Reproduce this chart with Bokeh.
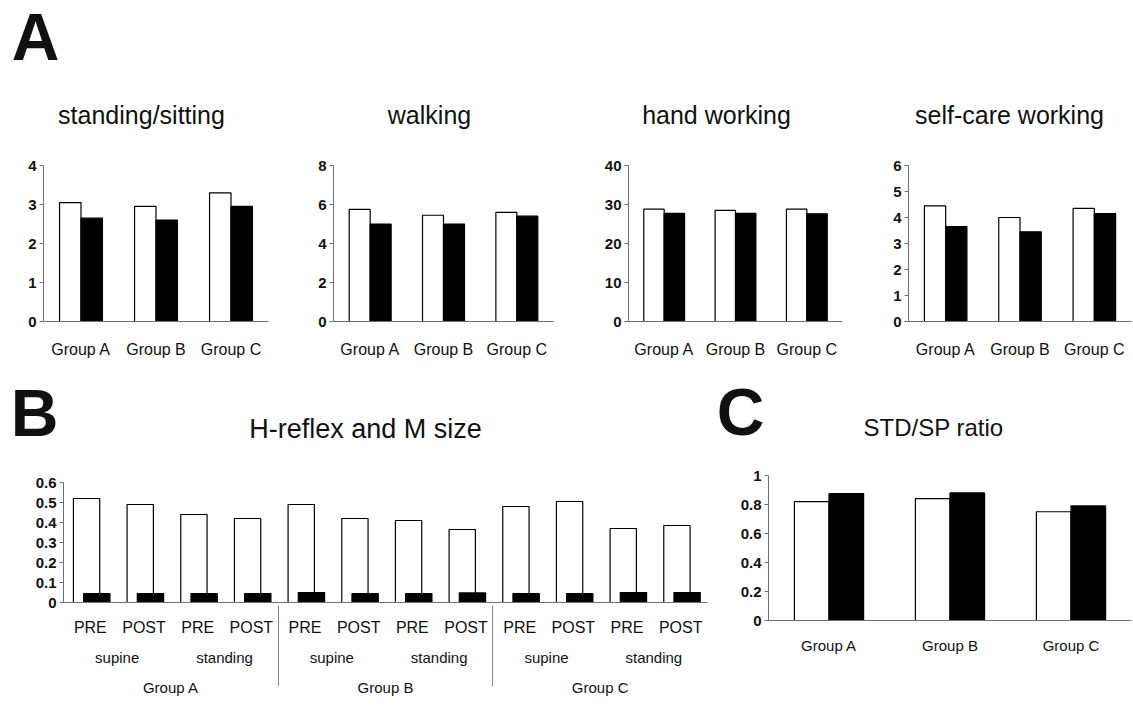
from bokeh.plotting import figure
from bokeh.models import FactorRange, Range1d, Label, FixedTicker, ColumnDataSource
from bokeh.transform import dodge
from bokeh.layouts import row, column
from bokeh.embed import file_html
from bokeh.resources import INLINE

# ---------------- data ----------------
groups = ["Group A", "Group B", "Group C"]

# Panel A (white = first bar, black = second bar)
stand_white = [3.05, 2.95, 3.3]
stand_black = [2.65, 2.6, 2.95]
walk_white = [5.75, 5.45, 5.6]
walk_black = [5.0, 5.0, 5.4]
hand_white = [28.8, 28.5, 28.8]
hand_black = [27.7, 27.7, 27.6]
self_white = [4.45, 4.0, 4.35]
self_black = [3.65, 3.45, 4.15]

# Panel B
postures = ["supine", "standing"]
phases = ["PRE", "POST"]
h_reflex = [0.52, 0.49, 0.44, 0.42, 0.49, 0.42, 0.41, 0.365, 0.48, 0.505, 0.37, 0.385]
m_size = [0.045, 0.045, 0.045, 0.045, 0.05, 0.045, 0.045, 0.048, 0.045, 0.045, 0.05, 0.05]

# Panel C
ratio_white = [0.82, 0.84, 0.75]
ratio_black = [0.875, 0.88, 0.79]

# ---------------- style ----------------
FONT = "Liberation Sans"
AXIS_COLOR = "#707070"
TXT = "#111111"
W = 1132


def base_style(p, tick_font="15px"):
    p.outline_line_color = None
    p.xgrid.visible = False
    p.ygrid.visible = False
    p.background_fill_color = "white"
    p.border_fill_color = "white"
    for ax in p.axis:
        ax.axis_line_color = AXIS_COLOR
        ax.axis_line_width = 1
        ax.major_tick_line_color = AXIS_COLOR
        ax.minor_tick_line_color = None
        ax.major_label_text_font = FONT
        ax.major_label_text_color = TXT
    p.yaxis.major_tick_in = 0
    p.yaxis.major_tick_out = 4
    p.yaxis.major_label_standoff = 3
    p.yaxis.major_label_text_font_size = tick_font
    p.yaxis.major_label_text_font_style = "bold"
    p.xaxis.major_tick_line_color = None


def header(height, items):
    h = figure(width=W, height=height, x_range=Range1d(0, W), y_range=Range1d(height, 0),
               x_axis_type=None, y_axis_type=None, min_border=0,
               output_backend="svg", toolbar_location=None, tools="", title=None)
    h.outline_line_color = None
    h.xgrid.visible = False
    h.ygrid.visible = False
    for (x, y, text, size, bold) in items:
        h.add_layout(Label(x=x, y=y, text=text, text_align="center", text_baseline="alphabetic",
                           text_font=FONT, text_font_size=size,
                           text_font_style="bold" if bold else "normal", text_color=TXT))
    return h


def pair_panel(white, black, ymax, ticks, width, left, right, top, height, bottom,
               label_size="16px", standoff=13, overrides=None):
    p = figure(x_range=FactorRange(*groups, range_padding=0), y_range=Range1d(0, ymax),
               width=width, height=height,
               min_border_left=left, min_border_right=right,
               min_border_top=top, min_border_bottom=bottom,
               output_backend="svg", toolbar_location=None, tools="", title=None)
    src = ColumnDataSource(dict(g=groups, w=white, b=black))
    p.vbar(x=dodge("g", -0.143, range=p.x_range), top="w", width=0.286, source=src,
           fill_color="white", line_color="black", line_width=1.2)
    p.vbar(x=dodge("g", 0.143, range=p.x_range), top="b", width=0.286, source=src,
           fill_color="black", line_color="black", line_width=1.2)
    base_style(p)
    p.yaxis.ticker = FixedTicker(ticks=ticks)
    if overrides:
        p.yaxis.major_label_overrides = overrides
    p.xaxis.major_label_text_font_size = label_size
    p.xaxis.major_label_standoff = standoff
    return p


# ---------------- panel A ----------------
HA = 143
hA = header(HA, [
    (35, 36, "A", "66px", True),
    (141, 114, "standing/sitting", "25px", False),
    (429, 114, "walking", "25px", False),
    (716, 114, "hand working", "25px", False),
    (1009, 114, "self-care working", "25px", False),
])

TOP_H = 225
a1 = pair_panel(stand_white, stand_black, 4, [0, 1, 2, 3, 4], 298, 43, 30, 22, TOP_H, 47)
a2 = pair_panel(walk_white, walk_black, 8, [0, 2, 4, 6, 8], 290, 35, 35, 22, TOP_H, 47)
a3 = pair_panel(hand_white, hand_black, 40, [0, 10, 20, 30, 40], 280, 40, 26, 22, TOP_H, 47)
a4 = pair_panel(self_white, self_black, 6, [0, 1, 2, 3, 4, 5, 6], 264, 40, 1, 22, TOP_H, 47)

# ---------------- header B / C ----------------
HB = 82
hB = header(HB, [
    (34, 44, "B", "66px", True),
    (365, 60, "H-reflex and M size", "27px", False),
    (740, 43, "C", "66px", True),
    (933, 59, "STD/SP ratio", "24px", False),
])

BOT_H = 256

# ---------------- panel B ----------------
factors = [(g, s, ph) for g in groups for s in postures for ph in phases]
xr = FactorRange(*factors, factor_padding=0, subgroup_padding=0, group_padding=0, range_padding=0)
pb = figure(x_range=xr, y_range=Range1d(0, 0.6), width=708, height=BOT_H,
            min_border_left=63, min_border_right=1, min_border_top=32, min_border_bottom=104,
            output_backend="svg", toolbar_location=None, tools="", title=None)
srcb = ColumnDataSource(dict(x=factors, h=h_reflex, m=m_size))
pb.vbar(x=dodge("x", -0.07, range=xr), top="h", width=0.49, source=srcb,
        fill_color="white", line_color="black", line_width=1.2)
pb.vbar(x=dodge("x", 0.12, range=xr), top="m", width=0.49, source=srcb,
        fill_color="black", line_color="black", line_width=1.2)
base_style(pb)
pb.yaxis.ticker = FixedTicker(ticks=[0, 0.1, 0.2, 0.3, 0.4, 0.5, 0.6])
pb.yaxis.major_label_overrides = {0: "0"}
pb.xaxis.major_label_text_font_size = "16px"
pb.xaxis.major_label_standoff = 10
pb.xaxis.subgroup_text_font = FONT
pb.xaxis.subgroup_text_font_size = "15px"
pb.xaxis.subgroup_text_font_style = "normal"
pb.xaxis.subgroup_text_color = TXT
pb.xaxis.group_text_font = FONT
pb.xaxis.group_text_font_size = "15px"
pb.xaxis.group_text_font_style = "normal"
pb.xaxis.group_text_color = TXT
pb.xaxis.separator_line_color = "#888888"
pb.xaxis.separator_line_width = 1

# ---------------- panel C ----------------
pc = pair_panel(ratio_white, ratio_black, 1, [0, 0.2, 0.4, 0.6, 0.8, 1],
                424, 60, 1, 25, BOT_H, 86, label_size="15px", standoff=10,
                overrides={0: "0", 1: "1"})

layout = column(hA, row(a1, a2, a3, a4), hB, row(column(pb), column(pc)))

with open("out.html", "w") as f:
    f.write(file_html(layout, INLINE))
